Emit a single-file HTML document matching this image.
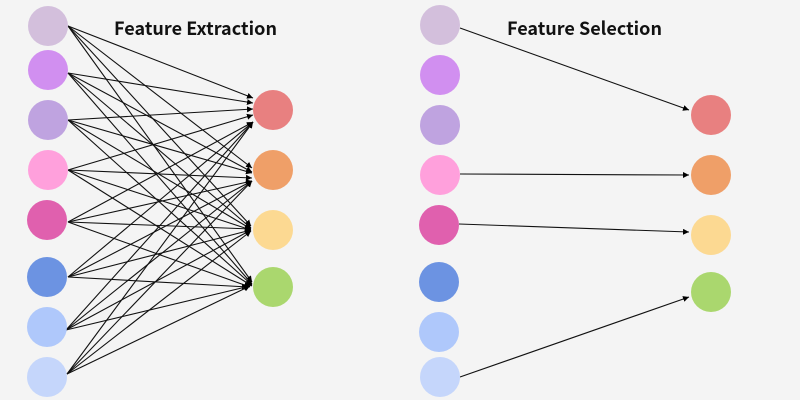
<!DOCTYPE html>
<html><head><meta charset="utf-8"><style>
html,body{margin:0;padding:0;background:#f4f4f4}
svg{display:block}
text{font-family:"Noto Sans CJK JP","Liberation Sans",sans-serif;font-size:18px;font-weight:700;fill:#111}
</style></head><body>
<svg width="800" height="400" viewBox="0 0 800 400" xmlns="http://www.w3.org/2000/svg">
<defs><marker id="a" markerUnits="userSpaceOnUse" markerWidth="8" markerHeight="8" refX="6" refY="3" orient="auto"><path d="M0 0L6 3L0 6z" fill="#000"/></marker></defs>
<rect width="800" height="400" fill="#f4f4f4"/>
<g stroke="#111" stroke-width="1.1" fill="none">
<line x1="68" y1="26" x2="253" y2="98" marker-end="url(#a)"/>
<line x1="68" y1="26" x2="252" y2="168" marker-end="url(#a)"/>
<line x1="68" y1="26" x2="251" y2="226" marker-end="url(#a)"/>
<line x1="68" y1="26" x2="252" y2="282" marker-end="url(#a)"/>
<line x1="68" y1="73" x2="253" y2="103" marker-end="url(#a)"/>
<line x1="68" y1="73" x2="252" y2="172" marker-end="url(#a)"/>
<line x1="68" y1="73" x2="251" y2="228" marker-end="url(#a)"/>
<line x1="68" y1="73" x2="252" y2="284" marker-end="url(#a)"/>
<line x1="68" y1="120" x2="253" y2="109" marker-end="url(#a)"/>
<line x1="68" y1="120" x2="252" y2="173" marker-end="url(#a)"/>
<line x1="68" y1="120" x2="251" y2="229" marker-end="url(#a)"/>
<line x1="68" y1="120" x2="252" y2="285" marker-end="url(#a)"/>
<line x1="68" y1="170" x2="253" y2="115" marker-end="url(#a)"/>
<line x1="68" y1="170" x2="252" y2="178" marker-end="url(#a)"/>
<line x1="68" y1="170" x2="251" y2="230" marker-end="url(#a)"/>
<line x1="68" y1="170" x2="252" y2="286" marker-end="url(#a)"/>
<line x1="68" y1="222" x2="253" y2="122" marker-end="url(#a)"/>
<line x1="68" y1="222" x2="252" y2="181" marker-end="url(#a)"/>
<line x1="68" y1="222" x2="251" y2="229" marker-end="url(#a)"/>
<line x1="68" y1="222" x2="250" y2="287" marker-end="url(#a)"/>
<line x1="68" y1="277" x2="253" y2="122" marker-end="url(#a)"/>
<line x1="68" y1="277" x2="252" y2="181" marker-end="url(#a)"/>
<line x1="68" y1="277" x2="251" y2="230" marker-end="url(#a)"/>
<line x1="68" y1="277" x2="248" y2="287" marker-end="url(#a)"/>
<line x1="66" y1="330" x2="253" y2="122" marker-end="url(#a)"/>
<line x1="66" y1="330" x2="252" y2="181" marker-end="url(#a)"/>
<line x1="66" y1="330" x2="251" y2="230" marker-end="url(#a)"/>
<line x1="66" y1="330" x2="250" y2="286" marker-end="url(#a)"/>
<line x1="67" y1="374" x2="253" y2="122" marker-end="url(#a)"/>
<line x1="67" y1="374" x2="252" y2="181" marker-end="url(#a)"/>
<line x1="67" y1="374" x2="251" y2="231" marker-end="url(#a)"/>
<line x1="67" y1="374" x2="250" y2="286" marker-end="url(#a)"/>
<line x1="460" y1="28" x2="689" y2="110" marker-end="url(#a)"/>
<line x1="460" y1="174" x2="689" y2="175" marker-end="url(#a)"/>
<line x1="459" y1="224" x2="689" y2="232" marker-end="url(#a)"/>
<line x1="460" y1="377" x2="689" y2="297" marker-end="url(#a)"/>
</g>
<g>
<circle cx="48" cy="26" r="20" fill="#d3bfdc"/>
<circle cx="48" cy="70" r="20" fill="#d18ff0"/>
<circle cx="48" cy="120" r="20" fill="#bfa3e0"/>
<circle cx="48" cy="170" r="20" fill="#ffa0dc"/>
<circle cx="47" cy="220" r="20" fill="#e060ae"/>
<circle cx="47" cy="277" r="20" fill="#6c93e2"/>
<circle cx="47" cy="327" r="20" fill="#afc8fb"/>
<circle cx="47" cy="377" r="20" fill="#c5d6fb"/>
<circle cx="273" cy="110" r="20" fill="#e88080"/>
<circle cx="273" cy="170" r="20" fill="#ef9f68"/>
<circle cx="273" cy="230" r="20" fill="#fcd992"/>
<circle cx="273" cy="287" r="20" fill="#aad76e"/>
<circle cx="440" cy="25" r="20" fill="#d3bfdc"/>
<circle cx="440" cy="75" r="20" fill="#d18ff0"/>
<circle cx="440" cy="125" r="20" fill="#bfa3e0"/>
<circle cx="440" cy="175" r="20" fill="#ffa0dc"/>
<circle cx="439" cy="225" r="20" fill="#e060ae"/>
<circle cx="439" cy="282" r="20" fill="#6c93e2"/>
<circle cx="439" cy="332" r="20" fill="#afc8fb"/>
<circle cx="440" cy="377" r="20" fill="#c5d6fb"/>
<circle cx="711" cy="115" r="20" fill="#e88080"/>
<circle cx="711" cy="175" r="20" fill="#ef9f68"/>
<circle cx="711" cy="235" r="20" fill="#fcd992"/>
<circle cx="711" cy="292" r="20" fill="#aad76e"/>
</g>
<text x="114" y="35" textLength="163" lengthAdjust="spacing">Feature Extraction</text>
<text x="507" y="35" textLength="155" lengthAdjust="spacing">Feature Selection</text>
</svg>
</body></html>
